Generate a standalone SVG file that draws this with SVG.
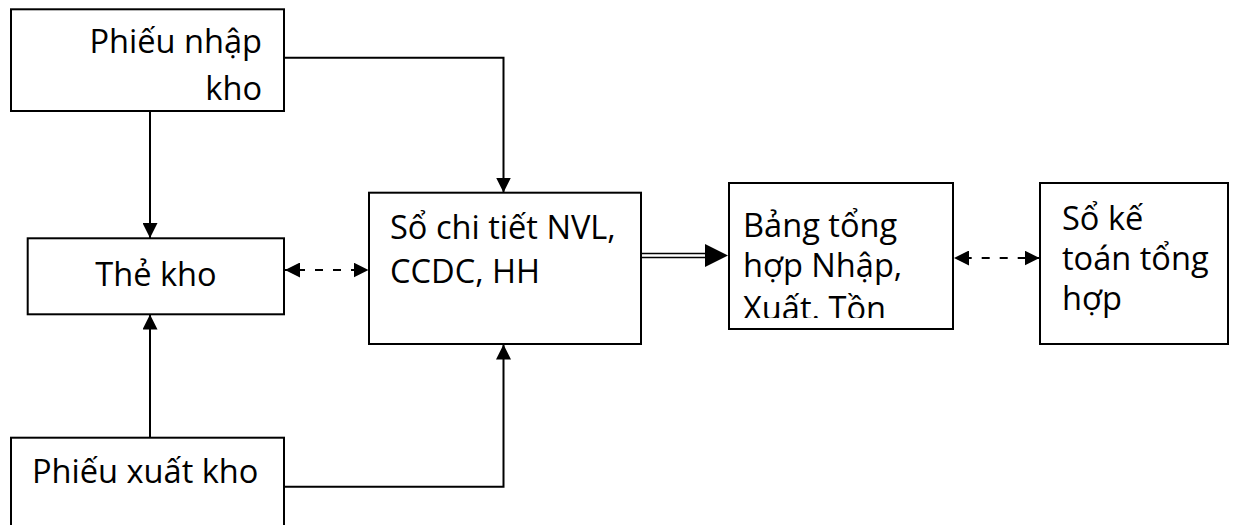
<svg xmlns="http://www.w3.org/2000/svg" width="1235" height="525" viewBox="0 0 1235 525">
<style>
.box{fill:#fff;stroke:#000;stroke-width:2}
.t{font-family:"Open Sans","Noto Sans","DejaVu Sans",sans-serif;font-size:32.6px;fill:#000}
.ln{fill:none;stroke:#000;stroke-width:2}
.dash{fill:none;stroke:#000;stroke-width:2;stroke-dasharray:8 10}
</style>
<defs>
<marker id="ah" markerUnits="userSpaceOnUse" markerWidth="15" markerHeight="15" refX="15" refY="7.5" orient="auto-start-reverse" viewBox="0 0 15 15">
<path d="M0,0 L15,7.5 L0,15 z" fill="#000"/>
</marker>
<clipPath id="clip5"><rect x="730" y="184" width="222" height="134"/></clipPath>
</defs>
<rect width="1235" height="525" fill="#fff"/>
<g id="connectors">
<line class="ln" x1="150" y1="111" x2="150" y2="238" marker-end="url(#ah)"/>
<path class="ln" d="M284,57.7 H503.5 V192.5" marker-end="url(#ah)"/>
<line class="ln" x1="150" y1="437.7" x2="150" y2="314.5" marker-end="url(#ah)"/>
<path class="ln" d="M284,486.7 H503.5 V344.5" marker-end="url(#ah)"/>
<line class="dash" stroke-dashoffset="6" x1="285" y1="270" x2="368.5" y2="270" marker-start="url(#ah)" marker-end="url(#ah)"/>
<line x1="641" y1="253.6" x2="707" y2="253.6" stroke="#000" stroke-width="1.5"/>
<line x1="641" y1="257.4" x2="707" y2="257.4" stroke="#000" stroke-width="1.5"/>
<path d="M705,244 L728,255.5 L705,267 z" fill="#000"/>
<line class="dash" stroke-dashoffset="8.3" x1="954" y1="258" x2="1039.5" y2="258" marker-start="url(#ah)" marker-end="url(#ah)"/>
</g>
<g id="n1">
<rect class="box" x="11" y="9.3" width="273" height="101.7"/>
<text class="t" x="262" y="53" text-anchor="end">Phiếu nhập</text>
<text class="t" x="262" y="100" text-anchor="end">kho</text>
</g>
<g id="n2">
<rect class="box" x="27.7" y="238.3" width="256.3" height="76"/>
<text class="t" x="156" y="286" text-anchor="middle">Thẻ kho</text>
</g>
<g id="n3">
<rect class="box" x="369" y="192.7" width="272" height="151.3"/>
<text class="t" x="390" y="239">Sổ chi tiết NVL,</text>
<text class="t" x="390" y="283">CCDC, HH</text>
</g>
<g id="n4">
<rect class="box" x="11" y="437.7" width="273" height="100"/>
<text class="t" x="32" y="483">Phiếu xuất kho</text>
</g>
<g id="n5">
<rect class="box" x="729" y="183" width="224" height="146"/>
<g clip-path="url(#clip5)">
<text class="t" x="743" y="237">Bảng tổng</text>
<text class="t" x="743" y="277">hợp Nhập,</text>
<text class="t" x="743" y="319.5">Xuất. Tồn</text>
</g>
</g>
<g id="n6">
<rect class="box" x="1040" y="183" width="188" height="161"/>
<text class="t" x="1062" y="230">Sổ kế</text>
<text class="t" x="1062" y="270">toán tổng</text>
<text class="t" x="1062" y="310">hợp</text>
</g>
</svg>
